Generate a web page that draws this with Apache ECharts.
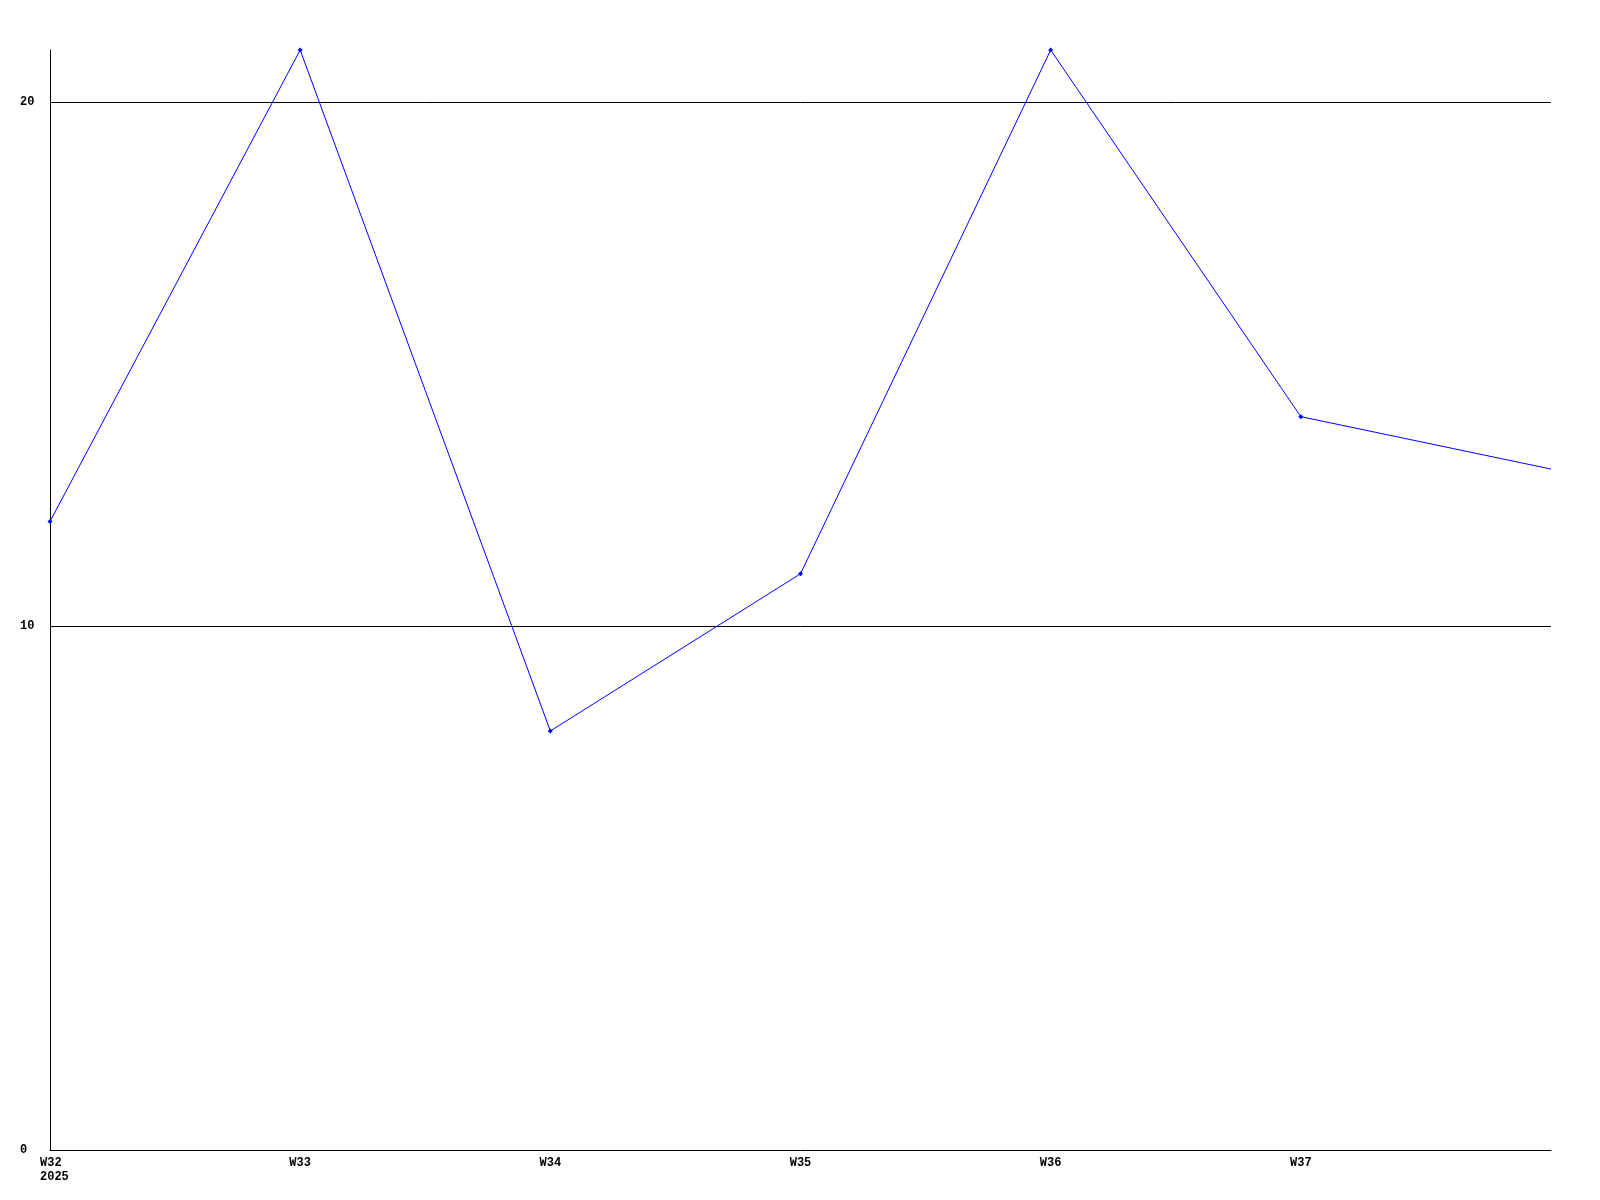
<!DOCTYPE html>
<html>
<head>
<meta charset="utf-8">
<script src="https://cdn.jsdelivr.net/npm/echarts@6/dist/echarts.min.js"></script>
<style>html,body{margin:0;padding:0;background:#fff}#c{width:1600px;height:1200px}</style>
</head>
<body>
<div id="c"></div>
<script>
const weeks = ['W32', 'W33', 'W34', 'W35', 'W36', 'W37', 'W38'];
const values = [12, 21, 8, 11, 21, 14, 13];
const yearLabel = '2025';
const gridValues = [10, 20];

const chart = echarts.init(document.getElementById('c'));
const font = '"Liberation Mono", "DejaVu Sans Mono", monospace';
chart.setOption({
  animation: false,
  backgroundColor: '#ffffff',
  grid: { left: 50, right: 49, top: 50, bottom: 50 },
  xAxis: {
    type: 'category',
    data: weeks,
    boundaryGap: false,
    axisLine: { lineStyle: { color: '#000', width: 1 } },
    axisTick: { show: false },
    splitLine: { show: false },
    axisLabel: {
      interval: 0,
      margin: 6,
      color: '#000',
      fontFamily: font,
      fontWeight: 'bold',
      fontSize: 12,
      lineHeight: 14,
      formatter: function (v, i) {
        if (i === weeks.length - 1) return '';
        if (i === 0) return '{l|' + v + '}\n{l|' + yearLabel + '}';
        return v;
      },
      rich: {
        l: { width: 20, align: 'left', fontFamily: font, fontWeight: 'bold', fontSize: 12, lineHeight: 14, color: '#000' }
      }
    }
  },
  yAxis: {
    type: 'value',
    min: 0,
    max: 21,
    interval: 10,
    axisLine: { show: true, lineStyle: { color: '#000', width: 1 } },
    axisTick: { show: false },
    splitLine: { show: false },
    axisLabel: {
      align: 'left',
      margin: 30,
      color: '#000',
      fontFamily: font,
      fontWeight: 'bold',
      fontSize: 12,
      showMaxLabel: false,
      formatter: function (v) { return gridValues.indexOf(v) >= 0 || v === 0 ? String(v) : ''; }
    }
  },
  series: [{
    type: 'line',
    data: values.map(function (v, i) { return i === values.length - 1 ? { value: v, symbol: 'none' } : v; }),
    symbol: 'diamond',
    symbolSize: 5,
    showSymbol: true,
    lineStyle: { color: '#0000ff', width: 1 },
    itemStyle: { color: '#0000ff' },
    z: 3,
    markLine: {
      silent: true,
      symbol: ['none', 'none'],
      label: { show: false },
      lineStyle: { color: '#000', width: 1, type: 'solid' },
      data: gridValues.map(function (g) { return { yAxis: g }; }),
      z: 1
    }
  }]
});
</script>
</body>
</html>
